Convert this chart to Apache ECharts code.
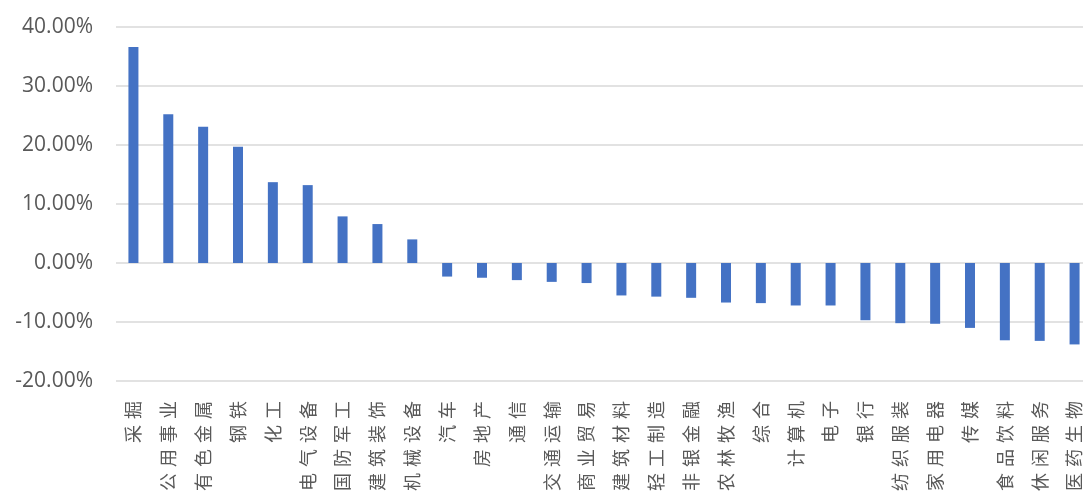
<!DOCTYPE html>
<html>
<head>
<meta charset="utf-8">
<script src="https://cdn.jsdelivr.net/npm/echarts@6/dist/echarts.min.js"></script>
<style>
  html, body { margin: 0; padding: 0; background: #ffffff; overflow: hidden; }
  #chart { width: 1083px; height: 493px; }
</style>
</head>
<body>
<div id="chart"></div>
<script>
// Industry names (申万一级行业)
const industries = [
  '采掘', '公用事业', '有色金属', '钢铁', '化工', '电气设备', '国防军工', '建筑装饰', '机械设备',
  '汽车', '房地产', '通信', '交通运输', '商业贸易', '建筑材料', '轻工制造', '非银金融', '农林牧渔',
  '综合', '计算机', '电子', '银行', '纺织服装', '家用电器', '传媒', '食品饮料', '休闲服务', '医药生物'
];

// Period return by industry, in percent
const returns = [
  36.6, 25.2, 23.1, 19.7, 13.7, 13.2, 7.9, 6.6, 4.0,
  -2.3, -2.5, -2.9, -3.2, -3.4, -5.5, -5.7, -5.9, -6.7,
  -6.8, -7.2, -7.2, -9.7, -10.2, -10.3, -11.0, -13.1, -13.2, -13.8
];

// Value axis ticks, in percent
const yTicks = [-20, -10, 0, 10, 20, 30, 40];

const chart = echarts.init(document.getElementById('chart'), null, { renderer: 'canvas' });

chart.setOption({
  animation: false,
  backgroundColor: '#ffffff',
  // plot area runs slightly past the right edge of the canvas
  grid: {
    left: 116, width: 976, top: 27, bottom: 112,
    containLabel: false,
    outerBoundsMode: 'none'
  },
  xAxis: {
    type: 'category',
    data: industries,
    axisLine: { show: false },
    axisTick: { show: false },
    axisLabel: {
      interval: 0,
      rotate: 90,
      margin: 20,
      padding: [9, 0, 0, 0],
      color: '#595959',
      fontSize: 18,
      fontFamily: '"Noto Sans CJK SC", sans-serif',
      formatter: v => v.split('').join('\u2004')
    }
  },
  yAxis: {
    type: 'value',
    min: yTicks[0],
    max: yTicks[yTicks.length - 1],
    interval: 10,
    axisLine: { show: false },
    axisTick: { show: false },
    splitLine: { lineStyle: { color: '#d9d9d9', width: 1.5 } },
    axisLabel: {
      margin: 23,
      color: '#595959',
      fontSize: 21,
      fontFamily: '"Open Sans", "Noto Sans", sans-serif',
      formatter: v => v.toFixed(2) + '%'
    }
  },
  series: [{
    type: 'bar',
    data: returns,
    barWidth: 10,
    itemStyle: { color: '#4472c4' }
  }]
});
</script>
</body>
</html>
